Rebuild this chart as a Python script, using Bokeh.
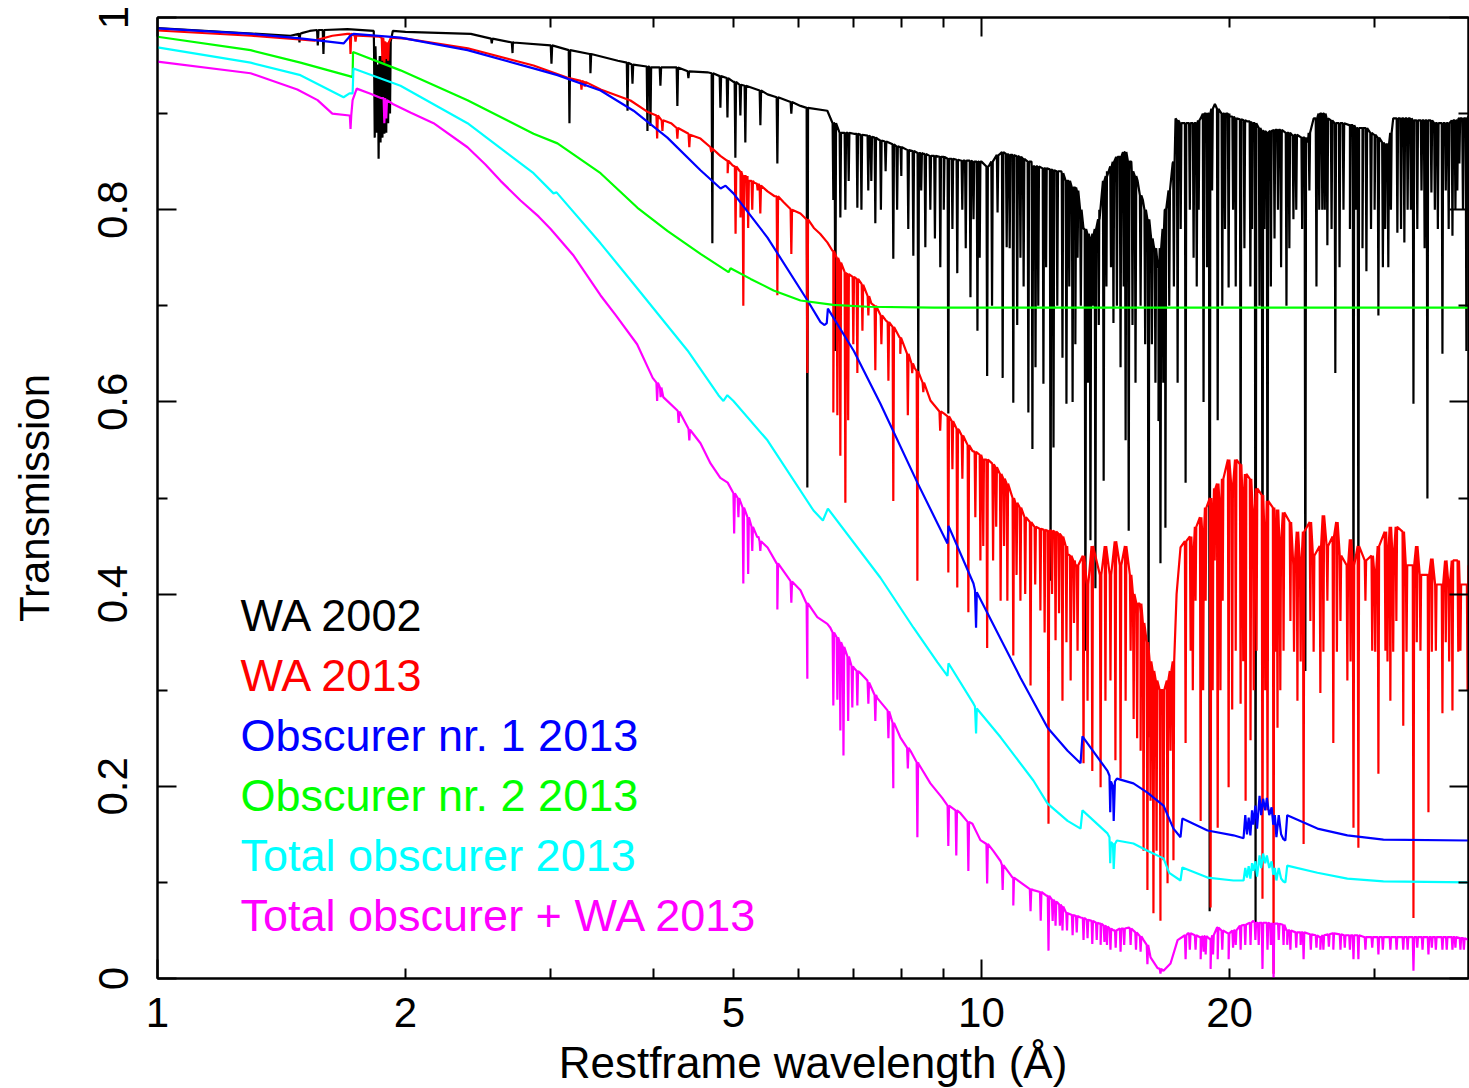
from bokeh.plotting import figure
from bokeh.models import Range1d, LogAxis, LinearAxis, FixedTicker, Label, CustomJSTickFormatter
from bokeh.embed import file_html
from bokeh.resources import INLINE

FONT = "Liberation Sans"

# ---------------- data ----------------
# continuum nodes (wavelength in Angstrom, transmission)
# absorption lines: (wavelength, local continuum, bottom of line)

wa2002_cont = [(1.0,.989),(1.45,.981),(1.50,.984),(1.53,.986),(1.70,.988),(1.83,.986),(1.93,.986),(2.0,.985),
    (2.4,.983),(2.7,.975),(3.0,.971),(3.35,.962),(3.62,.955),(3.95,.949),(4.2,.948),(4.65,.943),(5.0,.933),
    (5.5,.920),(6.03,.908),(6.5,.903),(7.0,.879),(7.5,.873),(8.0,.865),(8.5,.858),(9.0,.855),(9.5,.851),
    (10.0,.850),(10.2,.845),(10.5,.857),(11.0,.856),(11.5,.85),(12.0,.843),(12.5,.84),(13.0,.823),(13.3,.78),
    (13.6,.77),(13.9,.80),(14.2,.84),(14.7,.855),(15.2,.85),(15.47,.830),(15.7,.81),(15.9,.79),(16.2,.76),
    (16.4,.74),(16.7,.80),(17.06,.848),(17.20,.895),(18.0,.89),(18.45,.895),(19.2,.91),(20.0,.897),(21.0,.892),
    (22.0,.882),(23.0,.883),(24.0,.878),(24.9,.87),(25.3,.895),(26.0,.90),(27.0,.89),(28.0,.888),(29.0,.885),
    (30.0,.878),(31.0,.868),(31.6,.895),(33.0,.895),(35.0,.893),(36.5,.89),(38.0,.895),(39.0,.897)]
wa2002_lines = [(1.487,.983,.974),(1.565,.987,.971),(1.59,.987,.962),
    (1.835,.97,.875),(1.845,.95,.88),(1.855,.95,.853),(1.865,.96,.87),(1.875,.95,.875),(1.885,.96,.879),
    (1.895,.955,.88),(1.905,.965,.89),(1.915,.975,.90),
    (2.545,.978,.973),(2.697,.974,.963),(3.007,.971,.952),(3.162,.966,.890),(3.353,.962,.942),(3.719,.953,.903),
    (3.771,.951,.931),(3.932,.949,.882),(3.965,.948,.887),(4.077,.948,.929),(4.275,.948,.908),(4.409,.944,.937),
    (4.714,.942,.765),(4.821,.939,.906),(4.917,.937,.896),(5.027,.933,.854),(5.098,.930,.898),(5.169,.929,.870),
    (5.391,.924,.888),(5.653,.917,.848),(5.878,.912,.900),(6.147,.906,.511),(6.61,.89,.810),(6.647,.89,.653),
    (6.741,.88,.792),(6.836,.88,.80),(6.9,.88,.83),(7.069,.879,.802),(7.15,.878,.80),(7.288,.877,.82),
    (7.35,.876,.83),(7.433,.875,.786),(7.55,.872,.80),(7.65,.871,.84),(7.816,.868,.749),(7.9,.866,.80),
    (7.993,.865,.835),(8.15,.862,.78),(8.266,.861,.752),(8.381,.859,.630),(8.45,.859,.82),(8.548,.858,.761),
    (8.668,.856,.80),(8.78,.856,.77),(8.913,.855,.740),(9.0,.855,.80),(9.115,.853,.588),(9.22,.853,.78),
    (9.346,.852,.734),(9.478,.851,.80),(9.57,.851,.76),(9.697,.851,.709),(9.78,.85,.79),(9.888,.850,.674),
    (9.95,.85,.75),
    (10.16,.845,.627),(10.30,.85,.70),(10.46,.857,.797),(10.61,.86,.625),(10.73,.858,.761),(10.82,.857,.76),
    (10.93,.857,.599),(11.05,.856,.68),(11.15,.855,.75),(11.25,.853,.72),(11.40,.85,.589),(11.53,.845,.551),
    (11.63,.845,.636),(11.72,.845,.70),(11.89,.843,.619),(11.98,.843,.74),(12.13,.842,.414),(12.23,.841,.5525),
    (12.36,.84,.70),(12.54,.838,.646),(12.68,.83,.598),(12.78,.83,.72),(12.90,.823,.60),(13.0,.823,.66),
    (13.08,.82,.75),(13.2,.80,.70),(13.37,.78,.341),(13.47,.775,.62),(13.56,.77,.456),(13.66,.775,.70),
    (13.75,.78,.406),(13.88,.79,.68),(14.07,.83,.518),(14.18,.835,.72),(14.36,.845,.74),(14.46,.85,.682),
    (14.6,.855,.70),(14.75,.855,.636),(14.88,.86,.72),(14.96,.86,.560),(15.09,.85,.466),(15.25,.84,.68),
    (15.38,.835,.62),(15.6,.815,.70),(15.8,.80,.66),(15.95,.79,.251),(16.1,.77,.66),(16.26,.76,.620),
    (16.4,.74,.58),(16.49,.76,.432),(16.62,.78,.62),(16.72,.80,.469),(16.9,.82,.70),(17.12,.85,.72),
    (17.30,.893,.62),(17.45,.89,.78),(17.69,.89,.516),(17.9,.89,.80),(18.09,.89,.75),(18.25,.89,.72),
    (18.35,.893,.80),(18.60,.90,.60),(18.78,.90,.74),(18.92,.90,.07),(19.05,.905,.82),(19.35,.905,.581),
    (19.6,.90,.70),(19.75,.90,.78),(19.95,.90,.719),(20.2,.897,.80),(20.35,.895,.72),(20.63,.894,.50),
    (20.85,.893,.76),(21.2,.892,.72),(21.3,.89,.78),(21.51,.89,.053),(21.75,.885,.70),(21.93,.882,.341),
    (22.05,.882,.78),(22.24,.88,.33),(22.45,.882,.72),(22.68,.883,.770),(22.9,.883,.80),(23.1,.883,.74),
    (23.45,.88,.70),(23.64,.88,.76),(23.91,.877,.79),(24.1,.878,.80),(24.5,.875,.78),(24.72,.875,.32),
    (25.0,.88,.82),(25.5,.895,.72),(25.7,.90,.80),(25.92,.90,.80),(26.1,.90,.80),(26.29,.895,.763),
    (26.6,.893,.78),(26.88,.89,.630),(27.2,.89,.74),(27.5,.89,.80),(28.0,.888,.78),(28.28,.888,.341),
    (28.5,.885,.80),(28.67,.885,.341),(29.0,.885,.76),(29.32,.885,.736),(29.7,.88,.78),(30.0,.878,.80),
    (30.32,.875,.69),(30.7,.87,.74),(30.9,.868,.78),(31.17,.868,.740),(31.4,.88,.80),(31.97,.895,.776),
    (32.3,.895,.78),(32.60,.895,.766),(32.9,.895,.80),(33.2,.895,.80),(33.44,.893,.598),(33.8,.893,.78),
    (34.2,.893,.82),(34.5,.893,.76),(34.77,.893,.4995),(35.16,.893,.818),(35.5,.89,.80),(35.8,.89,.78),
    (36.26,.89,.650),(36.6,.89,.82),(36.9,.89,.78),(37.29,.893,.773),(37.6,.893,.80),(37.8,.893,.82),
    (38.02,.895,.848),(38.4,.895,.80),(38.77,.895,.653)]

wa2013_cont = [(1.0,.9865),(1.3,.981),(1.5,.977),(1.55,.976),(1.63,.981),(1.70,.983),(1.75,.981),(1.86,.980),
    (1.92,.979),(2.0,.978),(2.38,.968),(2.86,.950),(3.14,.9375),(3.45,.925),(3.75,.9136),(3.93,.902),(4.2,.890),
    (4.41,.879),(4.56,.874),(4.69,.865),(4.82,.856),(4.92,.851),(4.99,.846),(5.10,.84),(5.30,.828),(5.50,.819),
    (5.61,.814),(5.75,.808),(5.86,.801),(6.03,.796),(6.13,.790),(6.26,.781),(6.37,.775),(6.50,.766),(6.61,.7575),
    (6.85,.734),(7.15,.723),(7.35,.7025),(7.65,.685),(7.97,.667),(8.3,.635),(8.67,.6015),(9.0,.588),(9.4,.570),
    (9.75,.549),(10.3,.536),(10.73,.515),(11.0,.494),(11.6,.469),(12.0,.466),(12.4,.463),(12.72,.442),
    (13.0,.43),(15.6,.38),(16.0,.33),(16.5,.30),(17.0,.32),(17.25,.40),(17.44,.4485),(39.0,.43)]
wa2013_lines = [(1.715,.983,.962),(1.739,.981,.975),
    (1.875,.979,.955),(1.885,.975,.953),(1.895,.972,.957),(1.905,.974,.955),
    (3.27,.934,.925),(3.30,.933,.928),
    (4.04,.898,.874),(4.10,.893,.882),(4.275,.885,.874),(4.42,.878,.865),(4.70,.864,.860),(4.92,.851,.838),
    (5.03,.845,.775),(5.10,.84,.792),(5.14,.835,.700),(5.19,.835,.80),(5.21,.83,.781),(5.27,.83,.80),
    (5.35,.827,.82),(5.39,.825,.796),(5.653,.814,.711),(5.878,.80,.754),(6.147,.790,.630),
    (6.61,.757,.589),(6.685,.75,.586),(6.741,.745,.544),(6.836,.735,.495),(6.89,.733,.581),(6.99,.73,.66),
    (7.069,.728,.630),(7.17,.722,.674),(7.29,.71,.69),(7.433,.70,.633),(7.56,.69,.66),(7.71,.683,.622),
    (7.816,.678,.497),(7.97,.667,.65),(8.14,.65,.586),(8.24,.64,.63),(8.36,.632,.414),(8.50,.62,.61),
    (8.91,.59,.57),(9.115,.585,.4225),(9.22,.58,.53),(9.346,.572,.407),(9.48,.565,.52),(9.64,.555,.381),
    (9.83,.548,.48),(9.97,.545,.435),(10.05,.54,.45),(10.16,.54,.344),(10.33,.535,.435),(10.42,.532,.47),
    (10.55,.525,.393),(10.65,.52,.45),(10.75,.515,.393),(10.93,.50,.336),(11.03,.495,.42),(11.15,.49,.393),
    (11.3,.48,.40),(11.47,.475,.305),(11.62,.47,.41),(11.79,.468,.383),(11.93,.467,.36),(12.06,.466,.161),
    (12.18,.466,.40),(12.3,.465,.352),(12.42,.463,.38),(12.54,.46,.289),(12.68,.45,.35),(12.83,.44,.310),
    (12.95,.435,.37),(13.08,.43,.341),(13.30,.44,.224),(13.45,.41,.289),(13.63,.45,.216),(13.95,.42,.199),
    (14.14,.45,.289),(14.34,.42,.310),(14.54,.455,.227),(14.75,.43,.208),(14.96,.45,.289),(15.17,.42,.341),
    (15.3,.40,.27),(15.45,.39,.25),(15.60,.39,.237),(15.73,.37,.133),(15.90,.35,.092),(16.04,.33,.185),
    (16.17,.32,.068),(16.31,.31,.133),(16.49,.30,.060),(16.63,.30,.123),(16.82,.31,.099),(16.96,.32,.237),
    (17.1,.33,.123),
    (17.69,.455,.245),(17.94,.46,.341),(18.05,.44,.30),(18.19,.47,.393),(18.45,.48,.164),(18.58,.46,.30),
    (18.71,.49,.393),(18.97,.50,.074),(19.08,.48,.30),(19.19,.51,.435),(19.35,.515,.157),(19.5,.49,.30),
    (19.62,.52,.393),(19.95,.54,.199),(20.15,.51,.28),(20.35,.54,.341),(20.63,.535,.286),(20.78,.50,.33),
    (20.92,.525,.185),(21.21,.52,.248),(21.4,.48,.30),(21.57,.51,.341),(21.93,.503,.083),(22.1,.46,.30),
    (22.24,.497,.175),(22.62,.49,.005),(22.75,.45,.34),(22.87,.488,.261),(23.05,.45,.30),(23.26,.485,.341),
    (23.71,.475,.372),(23.95,.43,.34),(24.18,.465,.289),(24.4,.43,.33),(24.6,.465,.140),(25.07,.475,.372),
    (25.3,.44,.34),(25.78,.45,.297),(26.0,.482,.34),(26.29,.45,.393),(26.73,.46,.245),(27.0,.475,.34),
    (27.27,.44,.372),(27.80,.43,.310),(28.05,.457,.33),(28.28,.43,.157),(28.67,.45,.136),(29.24,.435,.393),
    (29.8,.44,.341),(30.05,.42,.34),(30.32,.45,.213),(30.92,.465,.341),(31.1,.44,.33),(31.35,.47,.289),
    (31.6,.44,.34),(31.88,.47,.372),(32.5,.465,.263),(32.8,.43,.34),(33.44,.43,.063),(33.75,.45,.35),
    (34.1,.42,.341),(34.87,.42,.173),(35.2,.437,.34),(35.6,.41,.341),(36.26,.41,.276),(36.6,.435,.35),
    (36.95,.41,.33),(37.29,.435,.279),(37.9,.435,.34),(38.13,.41,.341),(38.9,.41,.30)]

obs1_cont = [(1.0,.9886),(1.3,.983),(1.5,.978),(1.682,.973),(1.714,.981),(1.729,.983),(1.972,.979),(2.378,.966),
    (2.86,.947),(3.058,.940),(3.449,.924),(3.782,.903),(4.157,.875),(4.56,.841),(4.824,.822),(4.891,.825),
    (5.0,.817),(5.499,.771),(6.15,.7055),(6.378,.683),(6.45,.680),(6.49,.682),(6.51,.697),(7.0,.653),
    (7.54,.598),(8.36,.516),(8.844,.4735),(9.093,.4526),(9.12,.471),(9.779,.411),(9.82,.404),(9.85,.365),
    (9.87,.402),(11.15,.313),(12.03,.261),(12.72,.237),(13.19,.224),(13.26,.252),(14.22,.216),(14.30,.211),
    (14.33,.173),(14.36,.205),(14.44,.20),(14.47,.164),(14.52,.205),(14.6,.208),(15.29,.203),(15.90,.1935),
    (16.63,.180),(17.10,.156),(17.44,.147),(17.53,.1665),(18.81,.154),(20.22,.149),(20.80,.146),(20.9,.17),
    (21.0,.15),(21.1,.1675),(21.2,.149),(21.3,.175),(21.38,.16),(21.5,.18),(21.6,.156),(21.75,.19),
    (21.85,.17),(21.97,.187),(22.1,.175),(22.2,.188),(22.35,.17),(22.5,.178),(22.6,.16),(22.7,.17),
    (22.8,.147),(22.95,.17),(23.1,.15),(23.25,.145),(23.38,.1436),(23.5,.170),(25.57,.156),(27.8,.149),
    (30.75,.1446),(39.0,.1436)]
obs1_lines = []

obs2_cont = [(1.0,.980),(1.297,.966),(1.491,.953),(1.710,.939),(1.725,.938),(1.727,.964),(1.972,.945),
    (2.378,.914),(2.860,.879),(3.058,.869),(3.449,.838),(3.824,.802),(4.157,.778),(4.560,.754),(4.932,.735),
    (4.96,.739),(5.245,.728),(5.593,.716),(6.03,.7055),(6.61,.701),(7.27,.699),(8.76,.698),(39.0,.698)]
obs2_lines = []

tot_cont = [(1.0,.969),(1.297,.953),(1.491,.940),(1.682,.917),(1.71,.921),(1.725,.921),(1.729,.947),(1.972,.929),
    (2.378,.890),(2.86,.838),(3.024,.817),(3.05,.818),(3.449,.765),(3.782,.723),(4.398,.6535),(4.795,.607),
    (4.862,.601),(4.916,.607),(5.0,.601),(5.499,.560),(6.254,.487),(6.42,.4766),(6.51,.489),(7.54,.417),
    (8.27,.365),(8.844,.329),(9.093,.315),(9.12,.328),(9.779,.286),(9.82,.283),(9.85,.255),(9.87,.281),
    (10.55,.251),(11.56,.206),(12.03,.182),(12.72,.164),(13.19,.156),(13.26,.175),(14.22,.151),(14.30,.147),
    (14.33,.120),(14.36,.142),(14.44,.14),(14.47,.114),(14.52,.14),(14.6,.1436),(15.29,.1405),(15.90,.133),
    (16.63,.125),(16.9,.110),(17.44,.102),(17.53,.1155),(18.81,.105),(20.22,.102),(20.80,.102),(20.9,.115),
    (21.0,.105),(21.1,.117),(21.2,.104),(21.3,.12),(21.38,.112),(21.5,.122),(21.6,.106),(21.75,.128),
    (21.85,.115),(21.97,.130),(22.1,.12),(22.2,.128),(22.35,.115),(22.5,.122),(22.6,.108),(22.7,.115),
    (22.8,.102),(22.95,.115),(23.1,.104),(23.25,.101),(23.38,.100),(23.5,.1175),(25.57,.110),(27.8,.104),
    (30.75,.101),(39.0,.100)]
tot_lines = []

totwa_cont = [(1.0,.954),(1.297,.942),(1.478,.925),(1.564,.914),(1.63,.900),(1.71,.898),(1.725,.914),
    (1.745,.926),(1.81,.921),(1.87,.916),(1.93,.910),(2.03,.901),(2.163,.890),(2.378,.865),(2.5,.847),
    (2.608,.830),(2.758,.8096),(2.9,.793),(3.0,.78),(3.2,.752),(3.448,.711),(3.6,.69),(3.82,.66),(3.99,.625),
    (4.11,.605),(4.275,.591),(4.41,.572),(4.56,.557),(4.69,.536),(4.82,.521),(4.92,.516),(5.00,.505),(5.2,.48),
    (5.50,.4485),(5.65,.432),(5.86,.414),(6.03,.404),(6.15,.390),(6.32,.376),(6.50,.369),(6.555,.365),
    (6.99,.324),(7.128,.318),(7.27,.310),(7.47,.292),(7.69,.279),(7.82,.265),(7.97,.251),(8.20,.237),
    (8.38,.224),(8.67,.203),(8.96,.188),(9.43,.172),(9.75,.161),(9.97,.144),(10.33,.133),(10.55,.122),
    (10.93,.105),(11.56,.092),(12.0,.086),(12.37,.079),(12.72,.068),(13.19,.0635),(13.95,.057),(14.46,.050),
    (15.1,.053),(15.29,.050),(15.73,.040),(16.04,.022),(16.35,.011),(16.63,.008),(16.96,.0156),(17.3,.040),
    (17.8,.047),(18.45,.043),(18.97,.040),(19.35,.053),(19.95,.047),(21.04,.057),(21.38,.060),(22.87,.057),
    (23.5,.050),(24.38,.048),(25.78,.043),(26.73,.047),(29.4,.043),(32.24,.043),(35.3,.043),(39.0,.040)]
totwa_lines = [(1.715,.898,.884),(1.885,.916,.890),(1.895,.914,.895),
    (4.04,.62,.601),(4.08,.615,.605),(4.29,.59,.578),(4.42,.571,.5598),
    (5.01,.505,.463),(5.07,.50,.48),(5.14,.49,.411),(5.21,.48,.421),(5.27,.47,.445),(5.35,.46,.459),
    (5.39,.455,.445),(5.653,.432,.384),(5.878,.413,.391),(6.147,.390,.312),
    (6.61,.36,.284),(6.685,.355,.29),(6.741,.35,.258),(6.80,.345,.232),(6.89,.335,.268),(6.97,.325,.282),
    (7.069,.32,.284),(7.29,.308,.286),(7.433,.295,.268),(7.71,.278,.25),(7.816,.266,.198),(8.14,.24,.2185),
    (8.36,.225,.147),(9.115,.18,.138),(9.32,.175,.128),(9.64,.163,.112),(10.16,.14,.099),(10.61,.118,.092),
    (10.93,.105,.076),(11.47,.093,.07),(11.8,.09,.06),(12.06,.086,.029),(12.2,.082,.06),(12.3,.08,.055),
    (12.45,.077,.055),(12.54,.075,.05),(12.7,.068,.05),(12.9,.066,.045),(13.05,.065,.048),(13.30,.063,.040),
    (13.45,.061,.042),(13.63,.06,.036),(13.8,.058,.04),(13.95,.057,.035),(14.1,.055,.038),(14.2,.054,.035),
    (14.34,.052,.03),(14.55,.05,.032),(14.75,.052,.028),(14.9,.052,.035),(15.17,.052,.035),(15.4,.048,.03),
    (15.6,.044,.028),(15.9,.035,.015),(16.49,.01,.005),(17.69,.045,.02),(17.9,.047,.03),(18.19,.045,.03),
    (18.45,.043,.02),(18.6,.044,.028),(18.71,.044,.025),(18.97,.041,.01),(19.1,.045,.025),(19.35,.053,.02),
    (19.6,.05,.03),(19.95,.047,.02),(20.2,.05,.032),(20.35,.05,.035),(20.63,.055,.03),(20.9,.056,.035),
    (21.21,.058,.035),(21.5,.058,.04),(21.7,.058,.035),(21.93,.058,.01),(22.24,.058,.03),(22.45,.057,.035),
    (22.62,.057,.0),(22.95,.057,.04),(23.26,.056,.035),(23.5,.05,.035),(23.71,.05,.03),(24.1,.048,.032),
    (24.4,.048,.035),(24.6,.048,.02),(25.1,.046,.03),(25.5,.045,.032),(25.78,.043,.03),(26.0,.045,.03),
    (26.4,.046,.033),(26.73,.047,.03),(27.27,.046,.03),(27.6,.045,.032),(28.0,.045,.03),(28.28,.045,.02),
    (28.67,.045,.02),(29.24,.043,.03),(29.8,.043,.032),(30.32,.043,.025),(30.7,.043,.03),(31.35,.043,.03),
    (31.9,.043,.03),(32.5,.043,.03),(32.9,.043,.03),(33.44,.043,.008),(33.8,.043,.032),(34.3,.043,.03),
    (34.87,.043,.025),(35.2,.043,.032),(35.6,.043,.03),(36.26,.043,.03),(36.7,.043,.03),(37.29,.043,.03),
    (37.6,.043,.032),(38.13,.042,.03),(38.5,.042,.03)]

series_names = ["WA 2002", "WA 2013", "Obscurer nr. 1 2013", "Obscurer nr. 2 2013",
                "Total obscurer 2013", "Total obscurer + WA 2013"]
series_colors = ["#000000", "#ff0000", "#0000ff", "#00ff00", "#00ffff", "#ff00ff"]
series_data = [(wa2002_cont, wa2002_lines), (wa2013_cont, wa2013_lines), (obs1_cont, obs1_lines),
               (obs2_cont, obs2_lines), (tot_cont, tot_lines), (totwa_cont, totwa_lines)]

y_ticks = [0, 0.2, 0.4, 0.6, 0.8, 1.0]
y_minor = [0.1, 0.3, 0.5, 0.7, 0.9]
y_labels = {0: "0", 0.2: "0.2", 0.4: "0.4", 0.6: "0.6", 0.8: "0.8", 1.0: "1"}
x_labeled = [1, 2, 5, 10, 20]
x_major = [1, 10]
x_minor = [2, 3, 4, 5, 6, 7, 8, 9, 20, 30]

LINE_HALF_WIDTH = 0.002  # relative half width of a drawn absorption spike


def build(cont, lines):
    pts = list(cont)
    for x, top, bot in lines:
        pts.append((x * (1 - LINE_HALF_WIDTH), top))
        pts.append((x, bot))
        pts.append((x * (1 + LINE_HALF_WIDTH), top))
    pts.sort(key=lambda t: t[0])
    return [t[0] for t in pts], [t[1] for t in pts]


p = figure(frame_width=1311, frame_height=961, x_axis_type="log",
           x_range=Range1d(1, 39), y_range=Range1d(0, 1),
           x_axis_location=None, y_axis_location=None,
           output_backend="svg", toolbar_location=None,
           min_border_left=157, min_border_right=1, min_border_top=17, min_border_bottom=110)
p.background_fill_color = "white"
p.border_fill_color = "white"
p.outline_line_color = "black"
p.outline_line_width = 2
for g in p.grid:
    g.visible = False

blank = CustomJSTickFormatter(code="return ''")

def tick_style(ax, major_len, minor_len):
    ax.major_tick_in = major_len
    ax.major_tick_out = 0
    ax.minor_tick_in = minor_len
    ax.minor_tick_out = 0
    ax.major_tick_line_width = 2
    ax.minor_tick_line_width = 2
    ax.major_tick_line_color = "black"
    ax.minor_tick_line_color = "black"
    ax.axis_line_width = 2
    ax.axis_line_color = "black"

# left axis with labels
left = LinearAxis(ticker=FixedTicker(ticks=y_ticks, minor_ticks=y_minor),
                  major_label_overrides=y_labels, axis_label="Transmission")
tick_style(left, 19, 10)
left.major_label_orientation = "vertical"
left.major_label_text_font = FONT
left.major_label_text_font_size = "42px"
left.major_label_text_color = "black"
left.major_label_standoff = 30
left.axis_label_text_font = FONT
left.axis_label_text_font_size = "42px"
left.axis_label_text_font_style = "normal"
left.axis_label_text_color = "black"
left.axis_label_standoff = 38
p.add_layout(left, "left")

# right axis (ticks only)
right = LinearAxis(ticker=FixedTicker(ticks=y_ticks, minor_ticks=y_minor), formatter=blank)
tick_style(right, 19, 10)
right.major_label_text_font_size = "0px"
right.major_label_standoff = 0
p.add_layout(right, "right")

# bottom axis: ticks at the frame edge
bottom_ticks = LogAxis(ticker=FixedTicker(ticks=x_major, minor_ticks=x_minor), formatter=blank)
tick_style(bottom_ticks, 19, 10)
bottom_ticks.major_label_text_font_size = "0px"
bottom_ticks.major_label_standoff = 0
p.add_layout(bottom_ticks, "below")

# bottom axis: labels and title
bottom_lab = LogAxis(ticker=FixedTicker(ticks=x_labeled, minor_ticks=[]),
                     major_label_overrides={v: str(v) for v in x_labeled},
                     axis_label="Restframe wavelength (Å)")
bottom_lab.major_tick_in = 0
bottom_lab.major_tick_out = 0
bottom_lab.minor_tick_in = 0
bottom_lab.minor_tick_out = 0
bottom_lab.axis_line_color = None
bottom_lab.major_tick_line_color = None
bottom_lab.minor_tick_line_color = None
bottom_lab.major_label_text_font = FONT
bottom_lab.major_label_text_font_size = "42px"
bottom_lab.major_label_text_color = "black"
bottom_lab.major_label_standoff = 19
bottom_lab.axis_label_text_font = FONT
bottom_lab.axis_label_text_font_size = "44px"
bottom_lab.axis_label_text_font_style = "normal"
bottom_lab.axis_label_text_color = "black"
bottom_lab.axis_label_standoff = 8
p.add_layout(bottom_lab, "below")

# top axis (ticks only)
top = LogAxis(ticker=FixedTicker(ticks=x_major, minor_ticks=x_minor), formatter=blank)
tick_style(top, 19, 10)
top.major_label_text_font_size = "0px"
top.major_label_standoff = 0
p.add_layout(top, "above")

for (cont, lines), color in zip(series_data, series_colors):
    xs, ys = build(cont, lines)
    p.line(xs, ys, line_color=color, line_width=2.2)

for i, (name, color) in enumerate(zip(series_names, series_colors)):
    p.add_layout(Label(x=1.261, y=0.378 - i * 0.0624, text=name, text_color=color,
                       text_font=FONT, text_font_size="45px", text_baseline="alphabetic",
                       text_align="left"))

open("out.html", "w").write(file_html(p, INLINE))
